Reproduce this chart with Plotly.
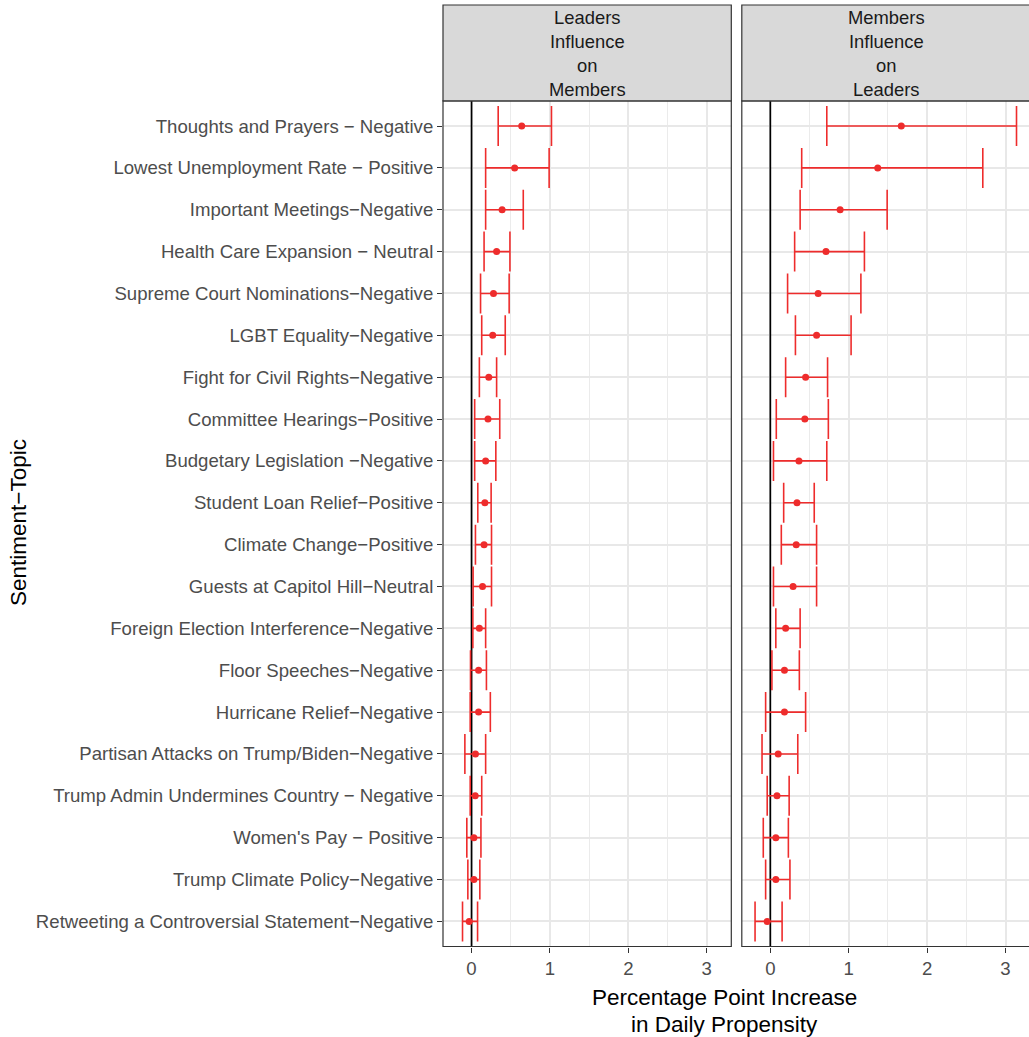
import plotly.graph_objects as go

topics = [
    "Thoughts and Prayers − Negative",
    "Lowest Unemployment Rate − Positive",
    "Important Meetings−Negative",
    "Health Care Expansion − Neutral",
    "Supreme Court Nominations−Negative",
    "LGBT Equality−Negative",
    "Fight for Civil Rights−Negative",
    "Committee Hearings−Positive",
    "Budgetary Legislation −Negative",
    "Student Loan Relief−Positive",
    "Climate Change−Positive",
    "Guests at Capitol Hill−Neutral",
    "Foreign Election Interference−Negative",
    "Floor Speeches−Negative",
    "Hurricane Relief−Negative",
    "Partisan Attacks on Trump/Biden−Negative",
    "Trump Admin Undermines Country − Negative",
    "Women's Pay − Positive",
    "Trump Climate Policy−Negative",
    "Retweeting a Controversial Statement−Negative",
]

# Leaders influence on members
lm_est = [0.64, 0.55, 0.39, 0.32, 0.28, 0.27, 0.22, 0.21, 0.18, 0.17,
          0.16, 0.14, 0.10, 0.09, 0.09, 0.05, 0.047, 0.03, 0.03, -0.03]
lm_low = [0.34, 0.18, 0.18, 0.16, 0.115, 0.13, 0.10, 0.04, 0.04, 0.08,
          0.05, 0.02, 0.017, -0.013, -0.017, -0.085, -0.017, -0.06, -0.047, -0.115]
lm_high = [1.02, 0.99, 0.66, 0.49, 0.48, 0.43, 0.32, 0.36, 0.31, 0.25,
           0.255, 0.255, 0.18, 0.19, 0.24, 0.18, 0.13, 0.12, 0.106, 0.077]

# Members influence on leaders
ml_est = [1.67, 1.37, 0.89, 0.71, 0.61, 0.59, 0.45, 0.44, 0.365, 0.34,
          0.33, 0.29, 0.195, 0.18, 0.18, 0.10, 0.085, 0.07, 0.07, -0.04]
ml_low = [0.72, 0.40, 0.38, 0.31, 0.22, 0.32, 0.195, 0.076, 0.04, 0.17,
          0.14, 0.04, 0.07, 0.02, -0.06, -0.106, -0.04, -0.09, -0.06, -0.195]
ml_high = [3.14, 2.71, 1.49, 1.20, 1.155, 1.03, 0.73, 0.74, 0.72, 0.56,
           0.59, 0.59, 0.38, 0.37, 0.45, 0.35, 0.24, 0.23, 0.25, 0.15]

panel_titles = ["Leaders<br>Influence<br>on<br>Members", "Members<br>Influence<br>on<br>Leaders"]
x_ticks = [0, 1, 2, 3]
x_title_lines = ["Percentage Point Increase", "in Daily Propensity"]
y_title = "Sentiment−Topic"

W, H = 1029, 1037
RED = "#EE2C2C"
FONT = "Liberation Sans, Arial, sans-serif"

def px(x):
    return x / W

def py(y):
    return 1 - y / H

left_dom = [px(443), px(731.3)]
right_dom = [px(741.8), 1.0]
ydom = [py(946.5), py(100.9)]
top_px, strip_top = 100.9, 5
n = len(topics)

fig = go.Figure()

series = [(lm_est, lm_low, lm_high, "x", "y"), (ml_est, ml_low, ml_high, "x2", "y2")]
for est, lo, hi, xa, ya in series:
    # vertical reference line at zero, spanning the whole panel
    fig.add_trace(go.Scatter(
        x=[0, 0], y=[-0.6, n - 1 + 0.6], mode="lines", xaxis=xa, yaxis=ya,
        line=dict(color="black", width=1.7), showlegend=False, hoverinfo="skip",
    ))
for est, lo, hi, xa, ya in series:
    fig.add_trace(go.Scatter(
        x=est, y=list(range(n)), mode="markers", xaxis=xa, yaxis=ya,
        marker=dict(color=RED, size=7),
        error_x=dict(type="data", symmetric=False,
                     array=[h - e for h, e in zip(hi, est)],
                     arrayminus=[e - l for e, l in zip(est, lo)],
                     color=RED, thickness=1.6, width=20),
        showlegend=False, hoverinfo="skip",
    ))

common_x = dict(
    range=[-0.364, 3.314], tickvals=x_ticks, ticktext=[str(t) for t in x_ticks],
    showgrid=True, gridcolor="#E8E8E8", gridwidth=1.6,
    minor=dict(dtick=0.5, tick0=0, showgrid=True, gridcolor="#EBEBEB", gridwidth=1.1, ticks=""),
    zeroline=False, ticks="outside", ticklen=5, tickcolor="#333333", tickwidth=1,
    tickfont=dict(family=FONT, size=18.6, color="#4D4D4D"),
    showline=False,
)
common_y = dict(
    domain=ydom, range=[n - 1 + 0.6, -0.6], tickvals=list(range(n)),
    showgrid=True, gridcolor="#E8E8E8", gridwidth=1.6, zeroline=False,
)
fig.update_layout(
    xaxis=dict(domain=left_dom, anchor="y", **common_x),
    xaxis2=dict(domain=right_dom, anchor="y2", **{**common_x, "range": [-0.364, -0.364 + (W - 741.8) / 78.4]}),
    yaxis=dict(anchor="x", ticktext=topics, ticks="outside", ticklen=5,
               tickcolor="#333333", tickwidth=1,
               tickfont=dict(family=FONT, size=18.6, color="#4D4D4D"), **common_y),
    yaxis2=dict(anchor="x2", matches="y", showticklabels=False, ticks="", **common_y),
    width=W, height=H, margin=dict(l=0, r=0, t=0, b=0),
    plot_bgcolor="white", paper_bgcolor="white",
)

shapes = []
for dom in [left_dom, right_dom]:
    x1 = dom[1] if dom[1] < 1 else 1.003
    shapes.append(dict(type="rect", xref="paper", yref="paper", x0=dom[0], x1=x1,
                       y0=ydom[0], y1=ydom[1], line=dict(color="#333333", width=1.2),
                       fillcolor="rgba(0,0,0,0)"))
    shapes.append(dict(type="rect", xref="paper", yref="paper", x0=dom[0], x1=x1,
                       y0=py(top_px), y1=py(strip_top), line=dict(color="#333333", width=1.2),
                       fillcolor="#D9D9D9"))
fig.update_layout(shapes=shapes)

annotations = []
for dom, title in zip([left_dom, right_dom], panel_titles):
    xc = (dom[0] + (dom[1] if dom[1] < 1 else 1.003)) / 2
    annotations.append(dict(xref="paper", yref="paper", x=xc, y=py(53), text=title,
                            showarrow=False, xanchor="center", yanchor="middle",
                            font=dict(family=FONT, size=18.4, color="#1A1A1A")))
for yy, line in zip([997.5, 1024], x_title_lines):
    annotations.append(dict(xref="paper", yref="paper", x=px(724), y=py(yy), text=line,
                            showarrow=False, xanchor="center", yanchor="middle",
                            font=dict(family=FONT, size=22.5, color="black")))
annotations.append(dict(xref="paper", yref="paper", x=px(18), y=py(523), text=y_title,
                        showarrow=False, xanchor="center", yanchor="middle", textangle=-90,
                        font=dict(family=FONT, size=22.5, color="black")))
fig.update_layout(annotations=annotations)

fig.write_html("out.html")
